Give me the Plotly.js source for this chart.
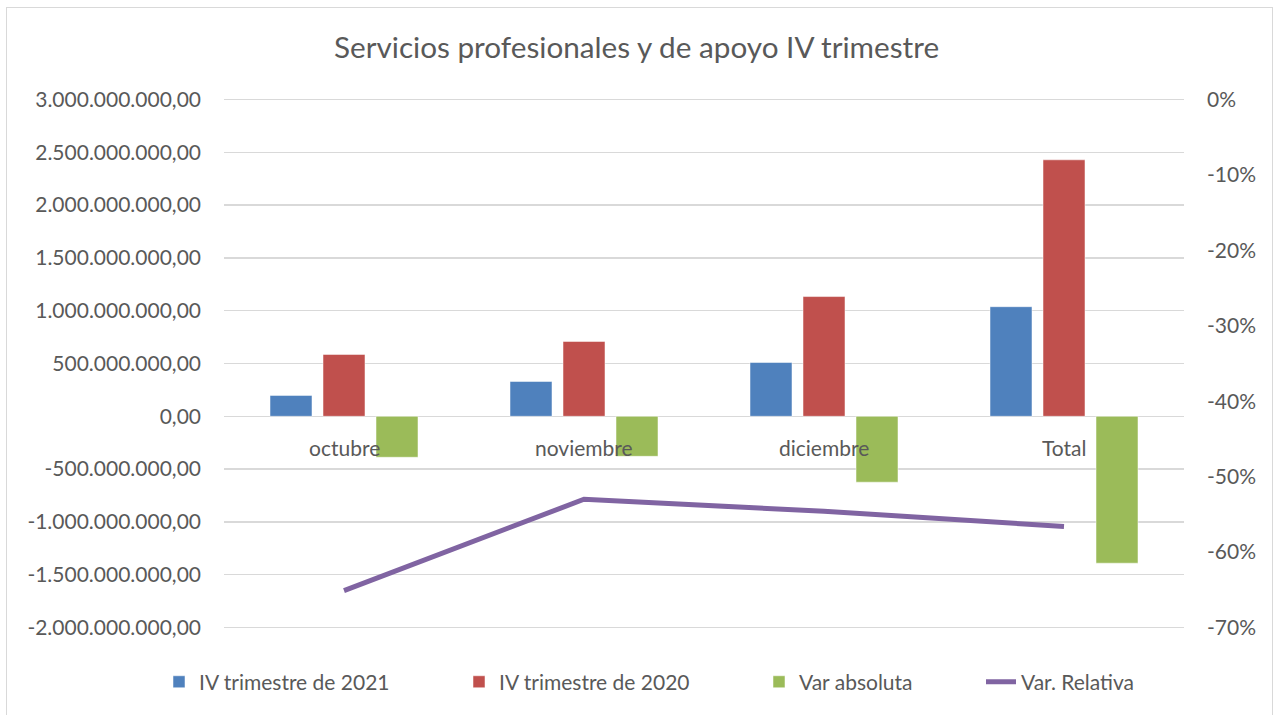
<!DOCTYPE html>
<html>
<head>
<meta charset="utf-8">
<script src="https://cdn.plot.ly/plotly-3.0.1.min.js"></script>
<style>
  html, body { margin: 0; padding: 0; background: #fff; }
  #chart { width: 1273px; height: 715px; }
  #frame { position: absolute; left: 6px; top: 7px; width: 1265px; height: 720px; border: 1px solid #d9d9d9; pointer-events: none; }
</style>
</head>
<body>
<div id="chart"></div>
<div id="frame"></div>
<script>
const categories = ['octubre', 'noviembre', 'diciembre', 'Total'];
const iv2021 = [198000000, 330000000, 510000000, 1038000000];
const iv2020 = [586000000, 709000000, 1134000000, 2429000000];
const varAbsoluta = [-388000000, -379000000, -624000000, -1391000000];
const varRelativa = [-0.651, -0.530, -0.546, -0.566];

const leftTickVals = [-2000000000, -1500000000, -1000000000, -500000000, 0, 500000000, 1000000000, 1500000000, 2000000000, 2500000000, 3000000000];
const leftTickText = ['-2.000.000.000,00', '-1.500.000.000,00', '-1.000.000.000,00', '-500.000.000,00', '0,00', '500.000.000,00', '1.000.000.000,00', '1.500.000.000,00', '2.000.000.000,00', '2.500.000.000,00', '3.000.000.000,00'];
const rightTickVals = [-0.7, -0.6, -0.5, -0.4, -0.3, -0.2, -0.1, 0];
const rightTickText = ['-70%', '-60%', '-50%', '-40%', '-30%', '-20%', '-10%', '0%'];

const FONT = 'Lato, "Open Sans", sans-serif';
const TXT = '#595959';

const traces = [
  { type: 'bar', name: 'IV trimestre de 2021', x: categories, y: iv2021, legend: 'legend',
    marker: { color: '#4F81BD', line: { color: 'rgba(255,255,255,0.5)', width: 1 } } },
  { type: 'bar', name: 'IV trimestre de 2020', x: categories, y: iv2020, legend: 'legend2',
    marker: { color: '#C0504D', line: { color: 'rgba(255,255,255,0.5)', width: 1 } } },
  { type: 'bar', name: 'Var absoluta', x: categories, y: varAbsoluta, legend: 'legend3',
    marker: { color: '#9BBB59', line: { color: 'rgba(255,255,255,0.5)', width: 1 } } },
  { type: 'scatter', mode: 'lines', name: 'Var. Relativa', x: categories, y: varRelativa, legend: 'legend4',
    yaxis: 'y2', line: { color: '#8064A2', width: 5, shape: 'linear' } }
];

const annotations = categories.map(c => ({
  x: c, y: 0, xref: 'x', yref: 'y', text: c, showarrow: false,
  yanchor: 'middle', yshift: -31, font: { family: FONT, size: 21, color: TXT }
}));

function leg(px) {
  return { orientation: 'h', xref: 'container', x: px / 1273, xanchor: 'left', y: -0.1, yanchor: 'middle',
           font: { family: FONT, size: 21, color: TXT }, bgcolor: 'rgba(0,0,0,0)' };
}

const layout = {
  width: 1273, height: 715,
  margin: { l: 224, r: 89, t: 97.5, b: 85.5, autoexpand: false },
  paper_bgcolor: '#ffffff', plot_bgcolor: '#ffffff',
  font: { family: FONT, size: 21, color: TXT },
  title: { text: 'Servicios profesionales y de apoyo IV trimestre', x: 0.5, xref: 'container',
           y: 1 - 48 / 715, yref: 'container', yanchor: 'middle',
           font: { family: FONT, size: 29.7, color: TXT } },
  barmode: 'group', bargap: 0.3375, bargroupgap: 0.2075,
  xaxis: { type: 'category', showticklabels: false, showgrid: false, zeroline: false, showline: false, ticks: '' },
  yaxis: { range: [-2014200000, 3014200000], tickvals: leftTickVals, ticktext: leftTickText,
           showgrid: true, gridcolor: '#d9d9d9', gridwidth: 1.3, zeroline: true, zerolinecolor: '#d9d9d9', zerolinewidth: 1.3,
           showline: false, ticks: '', ticklabelstandoff: 22, automargin: false,
           tickfont: { family: FONT, size: 21, color: TXT } },
  yaxis2: { range: [-0.70198, 0.00198], overlaying: 'y', side: 'right', tickvals: rightTickVals, ticktext: rightTickText,
            showgrid: false, zeroline: false, showline: false, ticks: '', ticklabelstandoff: 22, automargin: false,
            tickfont: { family: FONT, size: 21, color: TXT } },
  legend: leg(159),
  legend2: leg(459),
  legend3: leg(759),
  legend4: leg(981),
  annotations: annotations,
  showlegend: true
};

Plotly.newPlot('chart', traces, layout, { displayModeBar: false, staticPlot: true });
</script>
</body>
</html>
